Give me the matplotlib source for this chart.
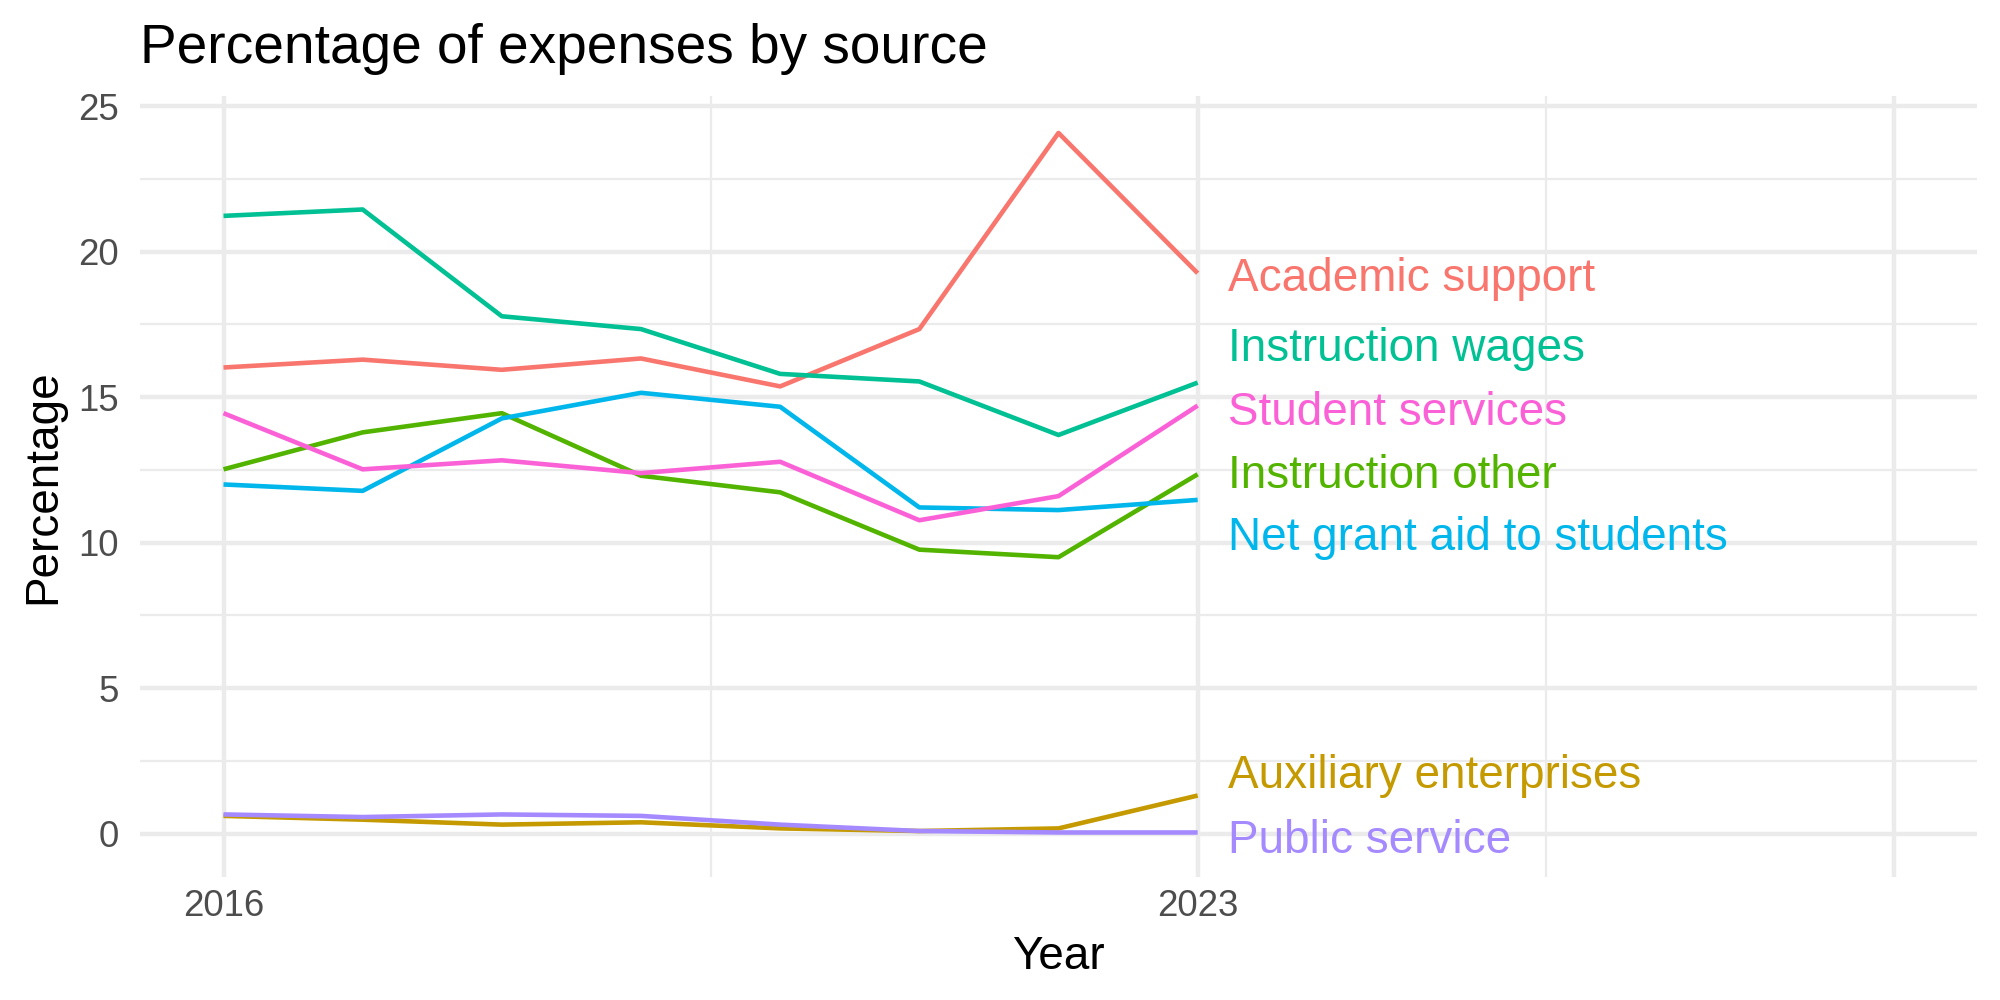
import numpy as np
import matplotlib
matplotlib.use("Agg")
import matplotlib.pyplot as plt

plt.rcParams['font.family'] = ['Liberation Sans', 'DejaVu Sans']

years = [2016, 2017, 2018, 2019, 2020, 2021, 2022, 2023]

academic_support = [16.02, 16.29, 15.94, 16.33, 15.37, 17.34, 24.08, 19.26]
auxiliary_enterprises = [0.61, 0.48, 0.31, 0.39, 0.18, 0.09, 0.18, 1.31]
instruction_other = [12.52, 13.79, 14.45, 12.30, 11.73, 9.76, 9.50, 12.35]
instruction_wages = [21.23, 21.45, 17.78, 17.34, 15.80, 15.54, 13.70, 15.50]
net_grant_aid = [12.00, 11.78, 14.27, 15.15, 14.67, 11.21, 11.12, 11.47]
public_service = [0.66, 0.57, 0.66, 0.61, 0.31, 0.09, 0.04, 0.04]
student_services = [14.45, 12.52, 12.83, 12.39, 12.78, 10.77, 11.60, 14.71]

series_names = ["Academic support", "Auxiliary enterprises", "Instruction other",
                "Instruction wages", "Net grant aid to students", "Public service",
                "Student services"]
series_values = [academic_support, auxiliary_enterprises, instruction_other,
                 instruction_wages, net_grant_aid, public_service, student_services]
series_colors = ["#F8766D", "#C49A00", "#53B400", "#00C094", "#00B6EB", "#A58AFF", "#FB61D7"]

# end labels were repelled apart in the original, so they sit at these heights
label_y = [19.05, 1.97, 12.30, 16.64, 10.16, -0.26, 14.45]

fig = plt.figure(figsize=(20 / 3, 10 / 3), dpi=300)
ax = fig.add_axes([0.07, 0.123, 0.9185, 0.781])

for name, vals, col, ly in zip(series_names, series_values, series_colors, label_y):
    ax.plot(years, vals, color=col, lw=1.1, solid_capstyle='butt', zorder=3)
    ax.text(years[-1] + 0.22, ly, name, color=col, fontsize=11.0, va='center', ha='left', zorder=4)

ax.set_xlim(2015.4, 2028.6)
ax.set_ylim(-1.49, 25.35)

ax.set_xticks([2016, 2023, 2028])
ax.set_xticklabels(["2016", "2023", ""])
ax.set_xticks([2019.5, 2025.5], minor=True)
ax.set_yticks([0, 5, 10, 15, 20, 25])
ax.set_yticks([2.5, 7.5, 12.5, 17.5, 22.5], minor=True)

ax.grid(which='major', color='#EBEBEB', lw=1.07)
ax.grid(which='minor', color='#EBEBEB', lw=0.53)
ax.set_axisbelow(True)
for s in ax.spines.values():
    s.set_visible(False)
ax.tick_params(which='both', length=0, labelsize=8.8, labelcolor='#4D4D4D')
ax.tick_params(axis='x', pad=3)
ax.tick_params(axis='y', pad=5)

ax.set_xlabel("Year", fontsize=11, labelpad=2.5)
ax.set_ylabel("Percentage", fontsize=11, labelpad=3.2)
ax.set_title("Percentage of expenses by source", fontsize=13.2, loc='left', pad=8)

fig.savefig("out.png", dpi=300, facecolor='white')
